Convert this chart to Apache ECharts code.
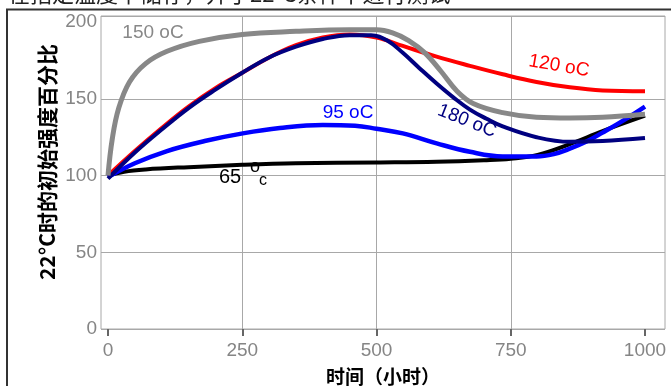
<!DOCTYPE html>
<html><head><meta charset="utf-8">
<script src="https://cdn.jsdelivr.net/npm/echarts@6/dist/echarts.min.js"></script>
<style>html,body{margin:0;padding:0;background:#fff}#c{width:671px;height:386px}</style>
</head><body><div id="c"></div>
<script>
// ---- data ----
const xTickLabels = [0, 250, 500, 750, 1000];
const yTickLabels = [0, 50, 100, 150, 200];

const hours65  = [0, 30, 70, 150, 250, 350, 500, 612, 700, 750, 800, 860, 921, 1000];
const vals65   = [100, 102.5, 104, 105.5, 107, 108, 108.5, 109, 110, 111, 113.5, 120.5, 129, 139];

const hours95  = [0, 50, 110, 180, 251, 320, 400, 460, 500, 549, 612, 674, 735, 798, 830, 860, 890, 921, 960, 1000];
const vals95   = [99, 108, 116, 122.5, 127.5, 131, 133, 132.5, 130.5, 127.5, 121, 115.5, 112.5, 112.5, 114, 117.5, 122, 128, 136, 145];

const hours120 = [0, 50, 100, 150, 200, 250, 300, 350, 400, 450, 500, 549, 612, 674, 735, 798, 860, 921, 1000];
const vals120  = [100, 116, 131, 145, 157, 167, 177, 185, 190, 192, 190, 184.5, 177.5, 171.5, 166, 161, 157.5, 155.5, 155];

const hours150 = [0, 8, 20, 40, 70, 110, 170, 250, 350, 450, 500, 530, 560, 590, 620, 650, 680, 735, 798, 860, 921, 1000];
const vals150  = [100, 124, 144, 161, 173, 181, 187.5, 192, 194, 195, 195, 193, 188, 180, 168, 155, 147, 141, 138, 137.5, 138, 140];

const hours180 = [0, 50, 100, 150, 200, 250, 300, 350, 400, 450, 490, 520, 549, 580, 612, 643, 674, 705, 735, 798, 860, 921, 1000];
const vals180  = [98, 115, 130, 144, 156, 167, 177, 184, 189, 191.5, 191.5, 188, 180, 170, 160, 151, 143, 137, 132, 125, 122, 122.5, 124.5];

const seriesNames = ['65 oC', '95 oC', '120 oC', '150 oC', '180 oC'];

function pairs(xs, ys) { return xs.map((x, i) => [x, ys[i]]); }

const FONT = '"Liberation Sans", Arial, "Noto Sans CJK SC", sans-serif';
const CJK = '"Noto Sans CJK SC", "Liberation Sans", sans-serif';
const GRID = '#a8a8a8';
const T = 'rgba(0,0,0,0)';

function line(name, xs, ys, color, width, z) {
  return {
    name, type: 'line', xAxisIndex: 1, yAxisIndex: 1,
    data: pairs(xs, ys), smooth: 0.4, symbol: 'none', z: z,
    lineStyle: { color, width, cap: 'butt', join: 'round' }, silent: true
  };
}

const chart = echarts.init(document.getElementById('c'), null, { renderer: 'canvas' });
chart.setOption({
  animation: false,
  backgroundColor: '#fff',
  grid: [
    { left: 101, right: 6, top: 16, bottom: 57, show: true, borderColor: GRID, borderWidth: 1 },
    { left: 108, right: 26, top: 16, bottom: 57 }
  ],
  xAxis: [
    { gridIndex: 0, type: 'value', min: 0, max: 1, show: false },
    { gridIndex: 1, type: 'value', min: xTickLabels[0], max: xTickLabels[xTickLabels.length - 1], interval: 250,
      axisLine: { show: false },
      axisTick: { show: true, length: 7, inside: false, lineStyle: { color: '#666', width: 2 } },
      axisLabel: { color: '#858585', fontSize: 19, fontFamily: FONT, margin: 12, formatter: v => String(v) },
      splitLine: { show: true, lineStyle: { color: [T, GRID, GRID, GRID, T], width: 1 } } }
  ],
  yAxis: [
    { gridIndex: 0, type: 'value', min: 0, max: 204, interval: 50,
      axisLine: { show: false }, axisTick: { show: false },
      axisLabel: { color: '#858585', fontSize: 19, fontFamily: FONT, margin: 4, showMaxLabel: false,
        formatter: v => (yTickLabels.indexOf(v) >= 0 ? String(v) : '') },
      splitLine: { show: true, lineStyle: { color: [GRID, GRID, GRID, GRID, T, GRID], width: 1 } } },
    { gridIndex: 1, type: 'value', min: 0, max: 204, show: false }
  ],
  series: [
    line(seriesNames[0], hours65, vals65, '#000000', 4, 3),
    line(seriesNames[1], hours95, vals95, '#0000ff', 4.5, 4),
    line(seriesNames[2], hours120, vals120, '#ff0000', 4, 5),
    line(seriesNames[4], hours180, vals180, '#000080', 4, 6),
    line(seriesNames[3], hours150, vals150, '#888888', 5, 7)
  ],
  graphic: [
    { type: 'polyline', z: 0, shape: { points: [[7, 386], [7, 9.5], [671, 9.5]] }, style: { stroke: '#333', lineWidth: 2, fill: null } },
    { type: 'text', x: 8, y: -6, z: 1, style: { text: '在指定温度下储存，并于22°C条件下进行测试', font: '22px ' + CJK, fill: '#222', verticalAlign: 'middle' } },
    { type: 'text', x: 47, y: 162, rotation: Math.PI / 2, z: 10, style: { text: '22°C时的初始强度百分比', font: 'bold 21px ' + CJK, fill: '#000', align: 'center', verticalAlign: 'middle' } },
    { type: 'text', x: 383, y: 377, z: 10, style: { text: '时间（小时）', font: 'bold 19px ' + CJK, fill: '#000', align: 'center', verticalAlign: 'middle' } },
    { type: 'text', x: 153, y: 33, z: 10, style: { text: '150 oC', font: '19px ' + FONT, fill: '#888888', align: 'center', verticalAlign: 'middle' } },
    { type: 'text', x: 348, y: 113, z: 10, style: { text: '95 oC', font: '19px ' + FONT, fill: '#0000ff', align: 'center', verticalAlign: 'middle' } },
    { type: 'text', x: 559, y: 66, rotation: -0.17, z: 10, style: { text: '120 oC', font: '19px ' + FONT, fill: '#ff0000', align: 'center', verticalAlign: 'middle' } },
    { type: 'text', x: 467, y: 121, rotation: -0.38, z: 10, style: { text: '180 oC', font: '19px ' + FONT, fill: '#000080', align: 'center', verticalAlign: 'middle' } },
    { type: 'text', x: 230, y: 177, z: 10, style: { text: '65', font: '20px ' + FONT, fill: '#000', align: 'center', verticalAlign: 'middle' } },
    { type: 'text', x: 255, y: 167, z: 1, style: { text: 'o', font: '18px ' + FONT, fill: '#000', align: 'center', verticalAlign: 'middle' } },
    { type: 'text', x: 263, y: 181, z: 10, style: { text: 'c', font: '16px ' + FONT, fill: '#000', align: 'center', verticalAlign: 'middle' } }
  ]
});
</script></body></html>
